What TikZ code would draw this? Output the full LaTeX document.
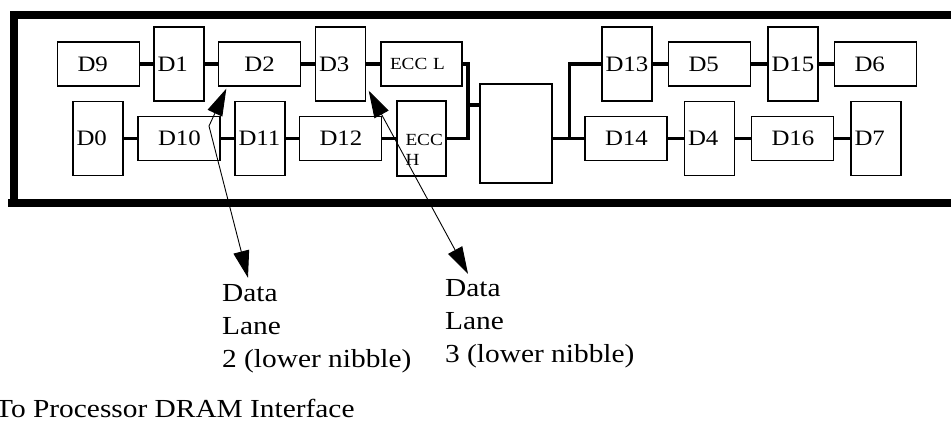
\documentclass[tikz,border=0pt]{standalone}
\usepackage{fontspec}
\setmainfont{Liberation Serif}
\newfontfamily\wfont[FakeStretch=1.13]{Liberation Serif}
\usetikzlibrary{arrows.meta,calc}
\begin{document}
\begin{tikzpicture}[x=1pt,y=-1pt,
  bx/.style={draw, line width=1.4pt, inner ysep=0pt, align=left},
  tallbox/.style={bx, minimum width=50pt, minimum height=74pt, text width=43pt, inner xsep=3.5pt, font=\wfont\fontsize{22}{26}\selectfont},
  widebox/.style={bx, minimum width=82pt, minimum height=44pt, text width=42pt, inner xsep=20pt, font=\wfont\fontsize{22}{26}\selectfont},
  eccfont/.style={font=\wfont\fontsize{17}{20}\selectfont},
  wire/.style={line width=3.2pt},
  frame/.style={line width=7.5pt},
  arr/.style={line width=0.9pt, arrows={Triangle[length=27pt,width=16pt]-Triangle[length=27pt,width=16pt]}},
  lbl/.style={font=\wfont\fontsize{26}{33}\selectfont, align=left, inner sep=0pt}
]
\useasboundingbox (0,0) rectangle (951,421);
% frame
\draw[frame] (951,15) -- (14,15) -- (14,203);
\draw[frame] (8,203) -- (951,203);
% top row left
\node[widebox] (D9) at (98.5,64) {D9};
\node[tallbox] (D1) at (179,64) {D1};
\node[widebox, align=center] (D2) at (259.5,64) {D2};
\node[tallbox] (D3) at (340.5,64) {D3};
\node[bx, eccfont, minimum width=81pt, minimum height=44pt, text width=63pt, inner xsep=9pt] (ECCL) at (421.5,64) {ECC L};
% bottom row left
\node[tallbox] (D0) at (98,138.5) {D0};
\node[widebox] (D10) at (179,138.5) {D10};
\node[tallbox] (D11) at (260,138.5) {D11};
\node[widebox] (D12) at (340.5,138.5) {D12};
\node[bx, minimum width=49pt, minimum height=75pt] (ECCH) at (421.5,138.5) {};
\node[eccfont, align=left, anchor=base west, inner sep=0pt] (ECCHt) at ($(ECCH.west)+(9,26.5)$) {ECC\\H};
% centre
\node[bx, minimum width=72pt, minimum height=99pt] (ctrl) at (516,133.5) {};
% right rows
\node[tallbox] (D13) at (627,64) {D13};
\node[widebox] (D5) at (709.5,64) {D5};
\node[tallbox] (D15) at (793,64) {D15};
\node[widebox] (D6) at (875.5,64) {D6};
\node[widebox] (D14) at (626,138.5) {D14};
\node[tallbox] (D4) at (709.5,138.5) {D4};
\node[widebox] (D16) at (792.5,138.5) {D16};
\node[tallbox] (D7) at (876,138.5) {D7};
% wires
\draw[wire] (D9) -- (D1);
\draw[wire] (D1) -- (D2);
\draw[wire] (D2) -- (D3);
\draw[wire] (D3) -- (ECCL);
\draw[wire] (D0) -- (D10);
\draw[wire] (D10) -- (D11);
\draw[wire] (D11) -- (D12);
\draw[wire] (D12) -- (ECCH);
\coordinate (busL) at (468,105);
\draw[wire] (ECCL.east) -- (ECCL.east -| busL) -- (ECCH.east -| busL) -- (ECCH.east);
\draw[wire] ($(busL)+(-2,0)$) -- (busL -| ctrl.west);
\coordinate (busR) at (569.5,100);
\draw[wire] (D13.west) -- (D13.west -| busR) -- (busR |- D14.west);
\draw[wire] (ctrl.east |- D14.west) -- (D14.west);
\draw[wire] (D13) -- (D5);
\draw[wire] (D5) -- (D15);
\draw[wire] (D15) -- (D6);
\draw[wire] (D14) -- (D4);
\draw[wire] (D4) -- (D16);
\draw[wire] (D16) -- (D7);
% labels (base = last line)
\node[lbl, anchor=base west] (lane2) at (222,367) {Data\\Lane\\2 (lower nibble)};
\node[lbl, anchor=base west] (lane3) at (445,362) {Data\\Lane\\3 (lower nibble)};
\node[lbl, anchor=base west] (proc) at (-5,417.5) {To Processor DRAM Interface};
% arrows
\coordinate (a1top) at ($(D2.south west)+(8.5,2)$);
\coordinate (a1kink) at (209,126);
\coordinate (a1bot) at ($(lane2.north west)+(26,-6)$);
\draw[arr] (a1bot) -- (a1kink) -- (a1top);
\coordinate (a2top) at ($(D3.south east)+(2.5,-11)$);
\coordinate (a2bot) at ($(lane3.north west)+(23,-5)$);
\draw[arr] (a2bot) -- (a2top);
\end{tikzpicture}
\end{document}
